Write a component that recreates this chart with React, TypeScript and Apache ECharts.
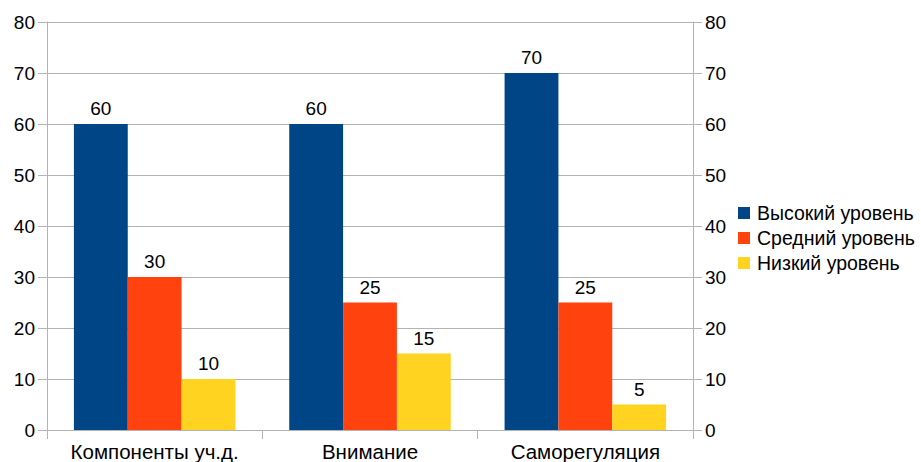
import React, { useEffect, useRef } from "react";
import * as echarts from "echarts";

const categories = ["Компоненты уч.д.", "Внимание", "Саморегуляция"];
const seriesNames = ["Высокий уровень", "Средний уровень", "Низкий уровень"];
const highValues = [60, 60, 70];
const midValues = [30, 25, 25];
const lowValues = [10, 15, 5];
const colors = ["#004586", "#ff420e", "#ffd320"];

const FONT = "Liberation Sans, Arial, sans-serif";

export default function App() {
  const ref = useRef<HTMLDivElement>(null);
  useEffect(() => {
    if (!ref.current) return;
    const chart = echarts.init(ref.current, undefined, { renderer: "svg" });
    const yAxisCommon = {
      type: "value",
      min: 0,
      max: 80,
      interval: 10,
      axisLine: { show: true, lineStyle: { color: "#b3b3b3", width: 1 } },
      axisTick: { show: true, length: 9, lineStyle: { color: "#b3b3b3" } },
      axisLabel: { color: "#000", fontSize: 19, fontFamily: FONT, margin: 12 },
    };
    const data = [highValues, midValues, lowValues];
    chart.setOption({
      animation: false,
      color: colors,
      grid: { left: 47, right: 228, top: 22, bottom: 31, containLabel: false },
      legend: {
        orient: "vertical",
        left: 738,
        top: 203,
        padding: 0,
        itemWidth: 12,
        itemHeight: 12,
        itemGap: 5,
        icon: "rect",
        data: seriesNames,
        textStyle: {
          color: "#000",
          fontSize: 19.5,
          lineHeight: 20,
          fontFamily: FONT,
          padding: [0, 0, 0, 2],
        },
      },
      xAxis: {
        type: "category",
        data: categories,
        axisLine: { show: true, lineStyle: { color: "#b3b3b3" } },
        axisTick: { show: true, interval: 0, length: 9, lineStyle: { color: "#b3b3b3" } },
        axisLabel: {
          color: "#000",
          fontSize: 20.5,
          fontFamily: FONT,
          margin: 11,
          interval: 0,
          hideOverlap: false,
        },
      },
      yAxis: [
        {
          ...yAxisCommon,
          position: "left",
          splitLine: { show: true, lineStyle: { color: "#b3b3b3" } },
        },
        {
          ...yAxisCommon,
          position: "right",
          splitLine: { show: false },
        },
      ],
      series: seriesNames.map((name, i) => ({
        name,
        type: "bar",
        data: data[i],
        barGap: "0%",
        barCategoryGap: "25%",
        label: {
          show: true,
          position: "top",
          distance: 6,
          color: "#000",
          fontSize: 19,
          fontFamily: FONT,
        },
      })),
    });
    return () => chart.dispose();
  }, []);
  return <div ref={ref} style={{ width: 921, height: 462, position: "absolute", left: 0, top: 0 }} />;
}
